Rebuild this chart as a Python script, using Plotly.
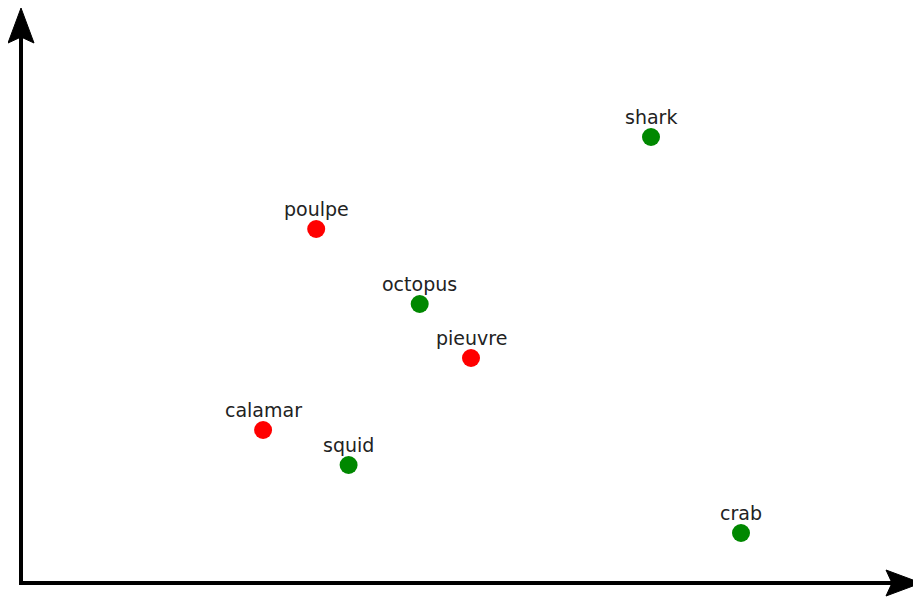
import plotly.graph_objects as go

names = ["shark", "poulpe", "octopus", "pieuvre", "calamar", "squid", "crab"]
xs = [7.0, 3.28, 4.43, 5.0, 2.69, 3.64, 8.0]
ys = [8.92, 7.08, 5.58, 4.5, 3.06, 2.36, 1.0]
groups = ["en", "fr", "en", "fr", "fr", "en", "en"]
colors = {"en": "#008800", "fr": "#ff0000"}

# page has an 8px body margin; the figure is sized to fit the window
W, H = 913, 590
L, R, T, B = 13, 0, 0, 15
XR = [0, 10]
YR = [0, 11.5]

def px_to_paper_x(px):
    return (px - L) / (W - L - R)

def px_to_paper_y(py):
    return (H - B - py) / (H - T - B)

fig = go.Figure()
fig.add_trace(go.Scatter(
    x=xs, y=ys, mode="markers",
    marker=dict(size=18, color=[colors[g] for g in groups], line=dict(width=0)),
    hoverinfo="text", text=names, showlegend=False,
))

for n, x, y in zip(names, xs, ys):
    fig.add_annotation(x=x, y=y, text=n, showarrow=False, yshift=20,
                       yanchor="middle", xanchor="center",
                       font=dict(family="DejaVu Sans", size=19, color="#222222"))

# axis lines
ox, oy = L, H - B
path = "M {},{} L {},{} L {},{}".format(
    px_to_paper_x(ox), px_to_paper_y(28),
    px_to_paper_x(ox), px_to_paper_y(oy),
    px_to_paper_x(892), px_to_paper_y(oy))
fig.add_shape(type="path", path=path, xref="paper", yref="paper",
              line=dict(color="black", width=4), layer="above")

# arrowheads
def arrow_path(pts):
    return "M " + " L ".join("{},{}".format(px_to_paper_x(a), px_to_paper_y(b)) for a, b in pts) + " Z"

up = [(ox, 0), (ox + 13, 35), (ox, 29), (ox - 13, 35)]
right = [(W, oy), (W - 35, oy - 13), (W - 29, oy), (W - 35, oy + 13)]
for pts in (up, right):
    fig.add_shape(type="path", path=arrow_path(pts), xref="paper", yref="paper",
                  line=dict(color="black", width=1), fillcolor="black", layer="above")

fig.update_layout(
    width=W, height=H,
    margin=dict(l=L, r=R, t=T, b=B),
    paper_bgcolor="white", plot_bgcolor="white",
    xaxis=dict(range=XR, visible=False, fixedrange=True),
    yaxis=dict(range=YR, visible=False, fixedrange=True),
)

fig.write_html("out.html")
